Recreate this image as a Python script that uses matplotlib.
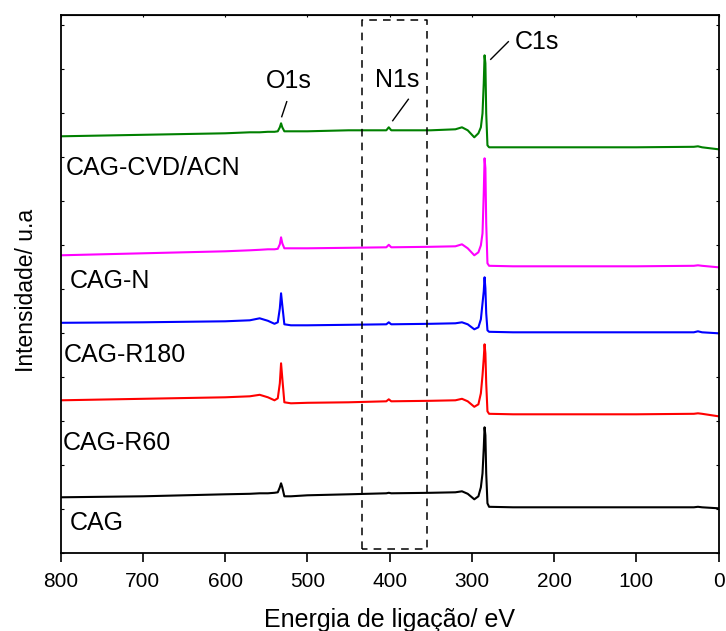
import matplotlib.pyplot as plt
from matplotlib.ticker import MultipleLocator

plt.rcParams['font.family'] = ['Liberation Sans', 'DejaVu Sans']

# Energia de ligação (eV)
energia = [800, 700, 600, 570, 558, 548, 540, 536, 533.5, 532, 530.5, 528, 520, 500,
           450, 404, 401, 398, 350, 320, 312, 305, 297, 292, 289, 287, 285.5, 284.5,
           283.5, 282.5, 281, 279, 250, 200, 100, 30, 25, 20, 0]

# Intensidades (u.a., já deslocadas verticalmente)
cvd_acn = [417, 418.5, 420, 421, 421, 421.5, 421.5, 422, 426, 430, 426, 422, 422, 422,
           423, 423, 426, 423, 423, 424, 426, 423, 416, 420, 426, 440, 470, 498,
           490, 440, 408, 406, 406, 406, 406, 406.5, 407, 406, 404]
cag_n = [298, 300, 302, 303, 303.5, 304, 304, 304.5, 309, 316, 310, 305, 305, 305,
         305.5, 306, 308.5, 306, 306.5, 307, 309, 305, 298, 301, 308, 320, 360, 395,
         385, 330, 290, 287.5, 287, 287, 287, 287.5, 288, 287.5, 286]
r180 = [230.5, 231, 232, 233, 235, 232.5, 229.5, 231, 245, 260, 248, 229, 228, 228,
        228.5, 229, 231, 229, 229.5, 230, 231, 229, 224, 226, 234, 250, 262, 276,
        265, 240, 223, 221.5, 221, 221, 221, 221, 222, 221, 220]
r60 = [153, 154.5, 156, 157, 158.5, 156, 153, 155, 170, 190, 175, 151, 150, 150.5,
       151, 152, 154, 152, 152.5, 153, 154.5, 152, 146.5, 149, 160, 178, 195, 209,
       200, 170, 142, 139.5, 139, 139, 139, 139.5, 140, 139.5, 137]
cag = [56, 57, 59, 59.5, 60, 60, 60.5, 61, 66, 70, 66, 57, 57, 58,
       59, 60, 60.5, 60, 60.5, 61, 62, 59.5, 54, 57, 66, 80, 105, 126,
       118, 80, 50, 46.5, 46, 46, 46, 46, 46.5, 46, 45]

series = [cvd_acn, cag_n, r180, r60, cag]
cores = ['green', 'magenta', 'blue', 'red', 'black']
nomes = ['CAG-CVD/ACN', 'CAG-N', 'CAG-R180', 'CAG-R60', 'CAG']
# posição dos rótulos (energia, intensidade)
nome_x = [793.5, 788.7, 796, 797, 788.7]
nome_y = [378, 265, 191, 103, 23]

picos = ['O1s', 'N1s', 'C1s']
pico_x = [522.3, 391, 220.7]
pico_y = [465, 466, 504]
seta_x = [(531.2, 525.1), (396.2, 377.2), (277, 255.6)]
seta_y = [(436.6, 451.6), (432.6, 454), (494, 511.6)]

fig = plt.figure(figsize=(7.26, 6.31), dpi=100)
ax = fig.add_axes([60.7 / 726, 1 - 553.3 / 631, (718.5 - 60.7) / 726, (553.3 - 15) / 631])

for y, c in zip(series, cores):
    ax.plot(energia, y, color=c, lw=1.5)

for nome, x, y in zip(nomes, nome_x, nome_y):
    ax.text(x, y, nome, fontsize=18, ha='left', va='baseline')

for p, x, y, sx, sy in zip(picos, pico_x, pico_y, seta_x, seta_y):
    ax.text(x, y, p, fontsize=18, ha='center', va='baseline')
    ax.plot(sx, sy, color='black', lw=1)

# caixa tracejada em volta da região do N1s
ax.plot([434, 434, 355, 355, 434], [4.3, 533.8, 533.8, 4.3, 4.3],
        color='black', lw=1.1, ls=(0, (5, 4)))

ax.set_xlim(800, 0)
ax.set_ylim(0, 538.3)
ax.xaxis.set_major_locator(MultipleLocator(100))
ax.yaxis.set_major_locator(MultipleLocator(44))
ax.set_yticklabels([])
ax.tick_params(axis='x', which='major', direction='out', length=6.5, width=1.2,
               labelsize=15, top=False, pad=7)
ax.tick_params(axis='y', direction='in', length=2.5, width=0.8, right=True)
ax.secondary_xaxis('top').tick_params(direction='in', length=1.5, labeltop=False)
for s in ax.spines.values():
    s.set_linewidth(1.3)

ax.set_xlabel('Energia de ligação/ eV', fontsize=18, labelpad=12)
ax.set_ylabel('Intensidade/ u.a', fontsize=16.5)
ax.yaxis.set_label_coords(-0.0345, 0.489)

fig.savefig('out.png', dpi=100)
